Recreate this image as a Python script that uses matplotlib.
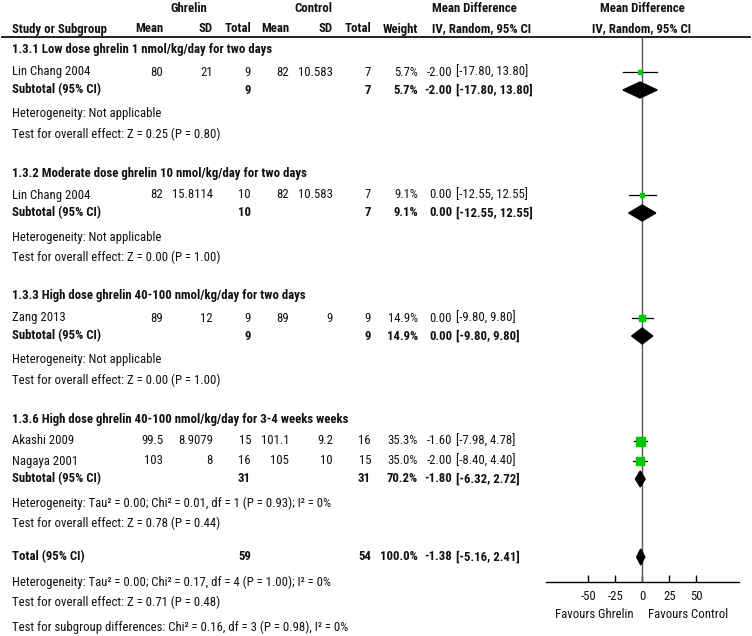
import matplotlib.pyplot as plt
import numpy as np
from matplotlib import font_manager
from matplotlib.patches import Polygon

# ---- data ----
group_titles = [
    "1.3.1 Low dose ghrelin 1 nmol/kg/day for two days",
    "1.3.2 Moderate dose ghrelin 10 nmol/kg/day for two days",
    "1.3.3 High dose ghrelin 40-100 nmol/kg/day for two days",
    "1.3.6 High dose ghrelin 40-100 nmol/kg/day for 3-4 weeks weeks",
]
study_names = ["Lin Chang 2004", "Lin Chang 2004", "Zang 2013", "Akashi 2009", "Nagaya 2001"]
study_group = [0, 1, 2, 3, 3]
g_mean = [80, 82, 89, 99.5, 103]
g_sd = [21, 15.8114, 12, 8.9079, 8]
g_n = [9, 10, 9, 15, 16]
c_mean = [82, 82, 89, 101.1, 105]
c_sd = [10.583, 10.583, 9, 9.2, 10]
c_n = [7, 7, 9, 16, 15]
weight = [5.7, 9.1, 14.9, 35.3, 35.0]
md = [-2.00, 0.00, 0.00, -1.60, -2.00]
md_lo = [-17.80, -12.55, -9.80, -7.98, -8.40]
md_hi = [13.80, 12.55, 9.80, 4.78, 4.40]

sub_g_n = [9, 10, 9, 31]
sub_c_n = [7, 7, 9, 31]
sub_weight = [5.7, 9.1, 14.9, 70.2]
sub_md = [-2.00, 0.00, 0.00, -1.80]
sub_lo = [-17.80, -12.55, -9.80, -6.32]
sub_hi = [13.80, 12.55, 9.80, 2.72]
sub_het = ["Heterogeneity: Not applicable"] * 3 + [
    "Heterogeneity: Tau\u00b2 = 0.00; Chi\u00b2 = 0.01, df = 1 (P = 0.93); I\u00b2 = 0%"]
sub_z = ["Test for overall effect: Z = 0.25 (P = 0.80)",
         "Test for overall effect: Z = 0.00 (P = 1.00)",
         "Test for overall effect: Z = 0.00 (P = 1.00)",
         "Test for overall effect: Z = 0.78 (P = 0.44)"]

tot_g_n, tot_c_n, tot_weight = 59, 54, 100.0
tot_md, tot_lo, tot_hi = -1.38, -5.16, 2.41
tot_notes = [
    "Heterogeneity: Tau\u00b2 = 0.00; Chi\u00b2 = 0.17, df = 4 (P = 1.00); I\u00b2 = 0%",
    "Test for overall effect: Z = 0.71 (P = 0.48)",
    "Test for subgroup differences: Chi\u00b2 = 0.16, df = 3 (P = 0.98), I\u00b2 = 0%",
]
ticks = [-50, -25, 0, 25, 50]


def pick_font():
    # the original uses a narrow Arial; fall back to a smaller regular sans
    for fam in ["Liberation Sans Narrow", "Roboto Condensed", "Arial Narrow"]:
        try:
            font_manager.findfont(font_manager.FontProperties(family=fam),
                                  fallback_to_default=False)
            return fam, 9.2
        except ValueError:
            pass
    return "Liberation Sans", 8.3


FAMILY, FS = pick_font()
plt.rcParams['font.family'] = [FAMILY, 'DejaVu Sans']
plt.rcParams['axes.unicode_minus'] = False

# ---- layout (pixels) ----
W, H = 752, 636
INK = "#111111"
GREEN = "#00c800"
X_LABEL = 12
COL = dict(g_mean=163, g_sd=213, g_n=251, c_mean=289, c_sd=333, c_n=371,
           w=418, est=452, ci=456)
AX_L, AX_R, AX_Y, AX_TOP = 546, 739, 582, 37
XLIM = (-89, 89.5)

fig = plt.figure(figsize=(W / 100, H / 100), dpi=100, facecolor="white")
ax = fig.add_axes([0, 0, 1, 1])
ax.set_xlim(0, W)
ax.set_ylim(H, 0)
ax.axis("off")

fa = fig.add_axes([AX_L / W, (H - AX_Y) / H, (AX_R - AX_L) / W, (AX_Y - AX_TOP) / H])
fa.set_xlim(*XLIM)
fa.set_ylim(AX_Y, AX_TOP)
fa.patch.set_alpha(0)


def txt(x, y, s, ha="left", bold=False):
    ax.text(x, y, s, ha=ha, va="center", fontsize=FS, color=INK,
            fontweight="bold" if bold else "normal")


def row_values(y, vals, bold=False):
    for key, v in vals.items():
        txt(COL[key], y, v, ha="left" if key == "ci" else "right", bold=bold)


# header
txt(189, 8, "Ghrelin", ha="center", bold=True)
txt(313, 8, "Control", ha="center", bold=True)
txt(432, 8, "Mean Difference", bold=True)
txt(642, 8, "Mean Difference", ha="center", bold=True)
txt(X_LABEL, 29, "Study or Subgroup", bold=True)
for key, lab in [("g_mean", "Mean"), ("g_sd", "SD"), ("g_n", "Total"),
                 ("c_mean", "Mean"), ("c_sd", "SD"), ("c_n", "Total"), ("w", "Weight")]:
    txt(COL[key], 29, lab, ha="right", bold=True)
txt(432, 29, "IV, Random, 95% CI", bold=True)
txt(642, 29, "IV, Random, 95% CI", ha="center", bold=True)
ax.plot([2, W - 2], [37, 37], color=INK, lw=1.3)


def diamond(y, c, lo, hi):
    fa.add_patch(Polygon([(lo, y), (c, y - 8), (hi, y), (c, y + 8)],
                         closed=True, color="black", zorder=4))


group_top = [50, 173, 296, 419]
for g, top in enumerate(group_top):
    txt(X_LABEL, top, group_titles[g], bold=True)
    y = top + 22
    idx = [i for i, sg in enumerate(study_group) if sg == g]
    for k, i in enumerate(idx):
        yy = y + 20 * k
        txt(X_LABEL, yy, study_names[i])
        row_values(yy, dict(g_mean=f"{g_mean[i]:g}", g_sd=f"{g_sd[i]:g}", g_n=str(g_n[i]),
                            c_mean=f"{c_mean[i]:g}", c_sd=f"{c_sd[i]:g}", c_n=str(c_n[i]),
                            w=f"{weight[i]:.1f}%", est=f"{md[i]:.2f}",
                            ci=f"[{md_lo[i]:.2f}, {md_hi[i]:.2f}]"))
        fa.plot([md_lo[i], md_hi[i]], [yy, yy], color="black", lw=0.9, zorder=3)
        side = 9 * np.sqrt(weight[i] / 35.3) * 0.72
        fa.plot(md[i], yy, marker="s", ms=side, color=GREEN, mec=GREEN, zorder=5)
    ys = y + 20 * (len(idx) - 1) + 18
    txt(X_LABEL, ys, "Subtotal (95% CI)", bold=True)
    row_values(ys, dict(g_n=str(sub_g_n[g]), c_n=str(sub_c_n[g]), w=f"{sub_weight[g]:.1f}%",
                        est=f"{sub_md[g]:.2f}", ci=f"[{sub_lo[g]:.2f}, {sub_hi[g]:.2f}]"),
               bold=True)
    diamond(ys, sub_md[g], sub_lo[g], sub_hi[g])
    txt(X_LABEL, ys + 24, sub_het[g])
    txt(X_LABEL, ys + 44, sub_z[g])

# overall
yt = 557
txt(X_LABEL, yt, "Total (95% CI)", bold=True)
row_values(yt, dict(g_n=str(tot_g_n), c_n=str(tot_c_n), w=f"{tot_weight:.1f}%",
                    est=f"{tot_md:.2f}", ci=f"[{tot_lo:.2f}, {tot_hi:.2f}]"), bold=True)
diamond(yt, tot_md, tot_lo, tot_hi)
for k, note in enumerate(tot_notes):
    txt(X_LABEL, yt + 25 + 20 * k + (5 if k == 2 else 0), note)

# forest axis
fa.axvline(0, color="#555555", lw=1, zorder=2)
for side in ("top", "left", "right"):
    fa.spines[side].set_visible(False)
fa.spines["bottom"].set_color("black")
fa.spines["bottom"].set_linewidth(1)
fa.set_yticks([])
fa.set_xticks(ticks)
fa.set_xticklabels([str(t) for t in ticks])
fa.tick_params(axis="x", direction="in", length=5, width=1, colors="black",
               labelcolor=INK, labelsize=FS, pad=6)
txt(634, 614, "Favours Ghrelin", ha="right")
txt(648, 614, "Favours Control")

fig.savefig("out.png", dpi=100, facecolor="white")
